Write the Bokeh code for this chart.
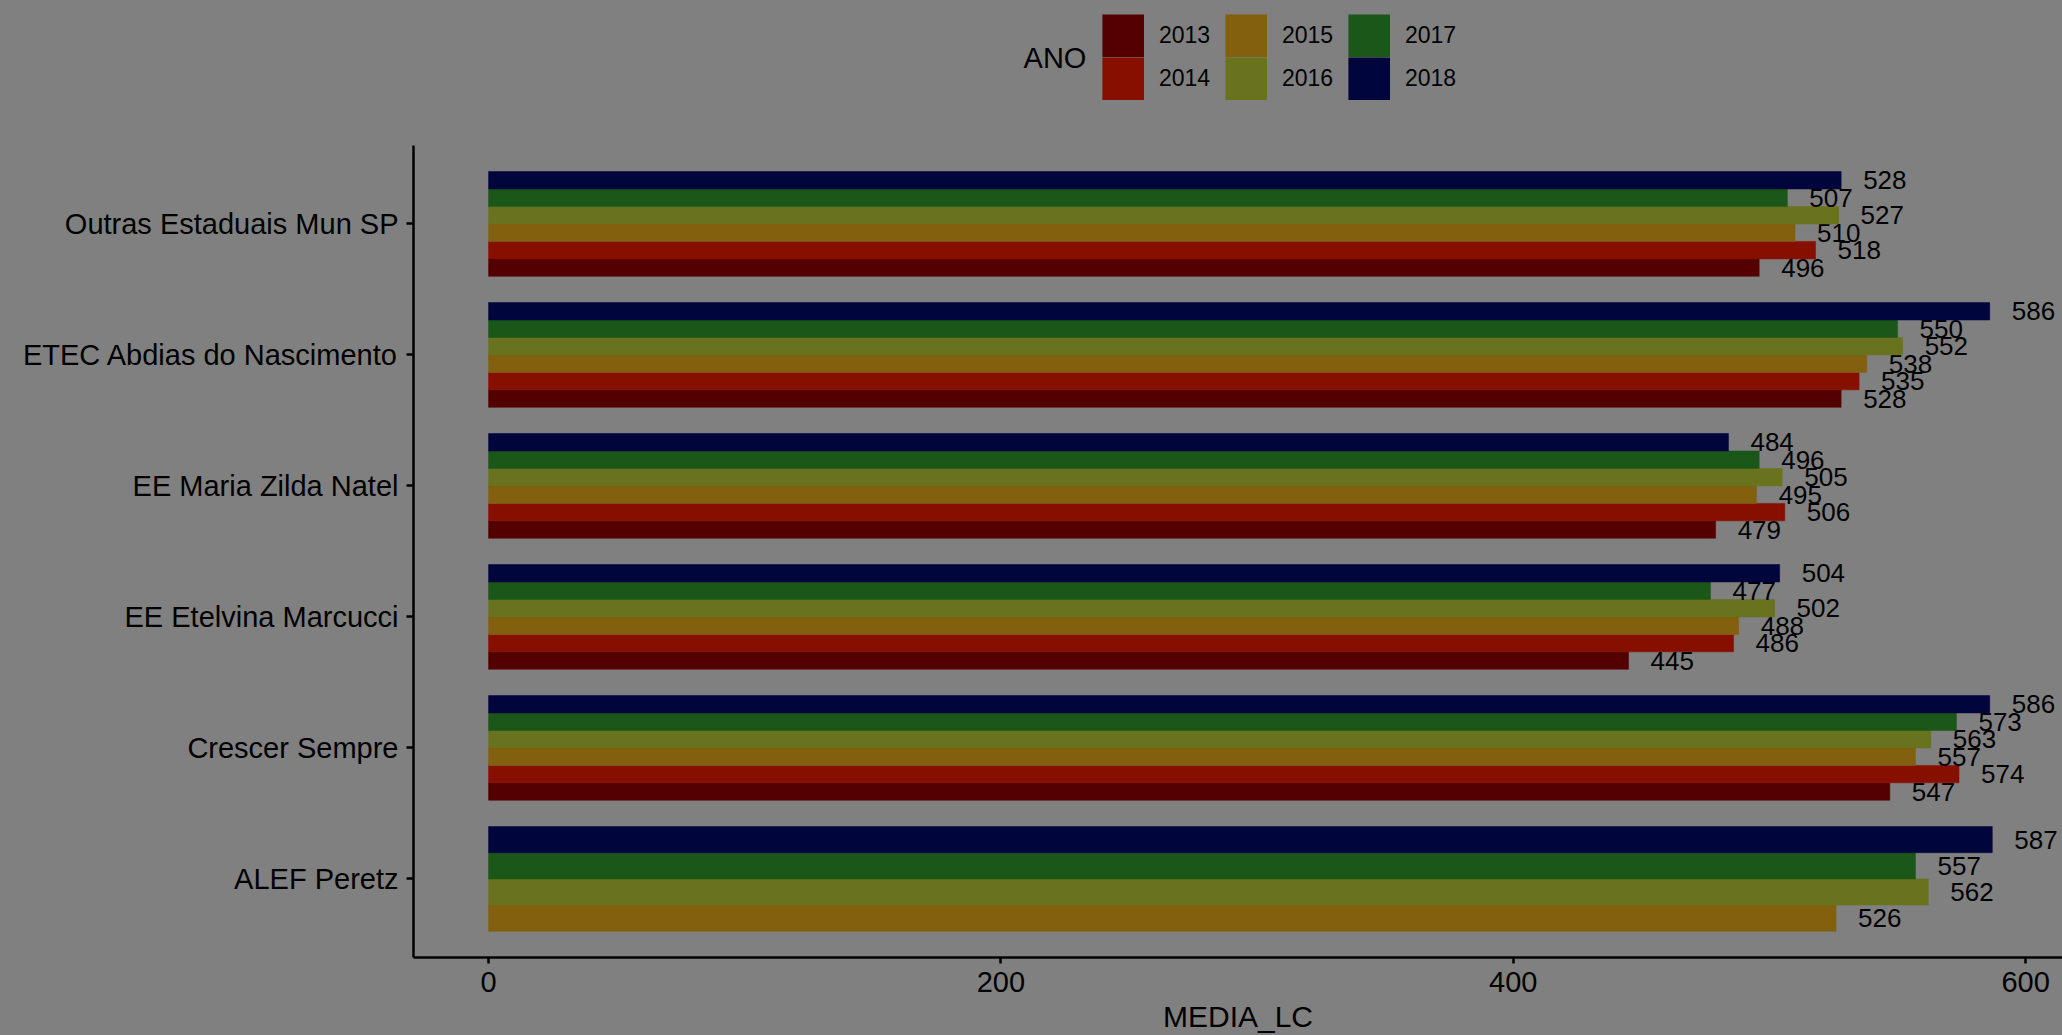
from bokeh.plotting import figure
from bokeh.models import (ColumnDataSource, Range1d, FixedTicker, Legend, LegendItem, Label)
from bokeh.embed import file_html
from bokeh.resources import INLINE
from bokeh.core.properties import value

# ---- data ----
schools = ["ALEF Peretz", "Crescer Sempre", "EE Etelvina Marcucci",
           "EE Maria Zilda Natel", "ETEC Abdias do Nascimento", "Outras Estaduais Mun SP"]
years = ["2013", "2014", "2015", "2016", "2017", "2018"]
colors = ["#550000", "#870f00", "#82600e", "#69731e", "#1a5719", "#00053c"]

media_alef = [None, None, 526, 562, 557, 587]
media_crescer = [547, 574, 557, 563, 573, 586]
media_etelvina = [445, 486, 488, 502, 477, 504]
media_zilda = [479, 506, 495, 505, 496, 484]
media_etec = [528, 535, 538, 552, 550, 586]
media_outras = [496, 518, 510, 527, 507, 528]
series = [media_alef, media_crescer, media_etelvina, media_zilda, media_etec, media_outras]

x_ticks = [0, 200, 400, 600]

BG = "#808080"
FONT = "Liberation Sans"

# ---- dodge positions (position_dodge, width 0.8) ----
rows = {y: dict(x=[], y=[], h=[], lab=[]) for y in years}
for i, vals in enumerate(series):
    present = [(yr, v) for yr, v in zip(years, vals) if v is not None]
    n = len(present)
    bw = 0.8 / n
    for k, (yr, v) in enumerate(present):
        yc = (i + 1) - 0.4 + (k + 0.5) * bw
        rows[yr]["x"].append(v)
        rows[yr]["y"].append(yc)
        rows[yr]["h"].append(bw)
        rows[yr]["lab"].append(str(v))

W, H = 2054, 1027
PX_Y = 131.13          # pixels per category unit
Y0, Y1 = 0.4, 6.6      # panel limits
FRAME_BOTTOM = 958 - 8
y_top = Y0 + FRAME_BOTTOM / PX_Y   # frame extends up to the canvas top (legend area)

p = figure(width=W, height=H, output_backend="svg", toolbar_location=None,
           x_range=Range1d(-29.3, 614.4), y_range=Range1d(Y0, y_top),
           min_border_left=405, min_border_right=0, min_border_top=0,
           min_border_bottom=77)
p.background_fill_color = BG
p.border_fill_color = BG
p.outline_line_color = None
p.xgrid.visible = False
p.ygrid.visible = False

key_renderers = []
for yr, c in zip(years, colors):
    src = ColumnDataSource(rows[yr])
    p.hbar(y="y", left=0, right="x", height="h", source=src,
           fill_color=c, line_color=c, line_width=0.5)
    p.text(x="x", y="y", text="lab", source=src, x_offset=22,
           text_align="left", text_baseline="middle",
           text_font=value(FONT), text_font_size="26px", text_color="black")
    # hidden twin used only for the legend swatch (thick outline fills the key box)
    key = p.hbar(y="y", left=0, right="x", height="h", source=src,
                 fill_color=c, line_color=c, line_width=8.6, line_join="miter",
                 visible=False)
    key_renderers.append(key)

# axes
p.xaxis.ticker = FixedTicker(ticks=x_ticks)
p.yaxis.ticker = FixedTicker(ticks=[1, 2, 3, 4, 5, 6])
p.yaxis.major_label_overrides = {i + 1: s for i, s in enumerate(schools)}
p.yaxis.bounds = (Y0, Y1)
for ax in (p.xaxis, p.yaxis):
    ax.axis_line_color = "black"
    ax.axis_line_width = 2.5
    ax.major_tick_line_color = "black"
    ax.major_tick_line_width = 2.5
    ax.major_tick_in = 0
    ax.minor_tick_line_color = None
    ax.major_label_text_font = FONT
    ax.major_label_text_font_size = "29px"
    ax.major_label_text_color = "black"
p.yaxis.major_tick_out = 7
p.yaxis.major_label_standoff = 8
p.xaxis.major_tick_out = 6
p.xaxis.major_label_standoff = 8
p.xaxis.axis_label = "MEDIA_LC"
p.xaxis.axis_label_standoff = 5
p.xaxis.axis_label_text_font = FONT
p.xaxis.axis_label_text_font_size = "30px"
p.xaxis.axis_label_text_font_style = "normal"
p.xaxis.axis_label_text_color = "black"

# legend (title drawn as a label to its left)
p.add_layout(Label(x=(1023 - 488) / 2.5617, y=Y0 + (958 - 58) / PX_Y, text="ANO",
                   text_font=FONT, text_font_size="29px", text_color="black",
                   text_align="left", text_baseline="middle"))

items = [LegendItem(label=yr, renderers=[r]) for yr, r in zip(years, key_renderers)]
legend = Legend(items=items, orientation="vertical", nrows=2,
                location=(689, 958 - 101),
                glyph_width=42, glyph_height=43, label_height=43, label_width=66,
                label_standoff=15, spacing=0, padding=0, margin=0,
                label_text_font=FONT, label_text_font_size="23px",
                label_text_color="black", background_fill_alpha=0,
                border_line_color=None, inactive_fill_alpha=0,
                click_policy="none")
p.add_layout(legend, "center")

html = file_html(p, INLINE)
style = ("<style>html,body{background:#808080 !important;margin:0;padding:0;"
         "overflow:hidden;}body{padding:8px 0 0 8px;}</style>")
html = html.replace("</head>", style + "</head>", 1)
open("out.html", "w").write(html)
